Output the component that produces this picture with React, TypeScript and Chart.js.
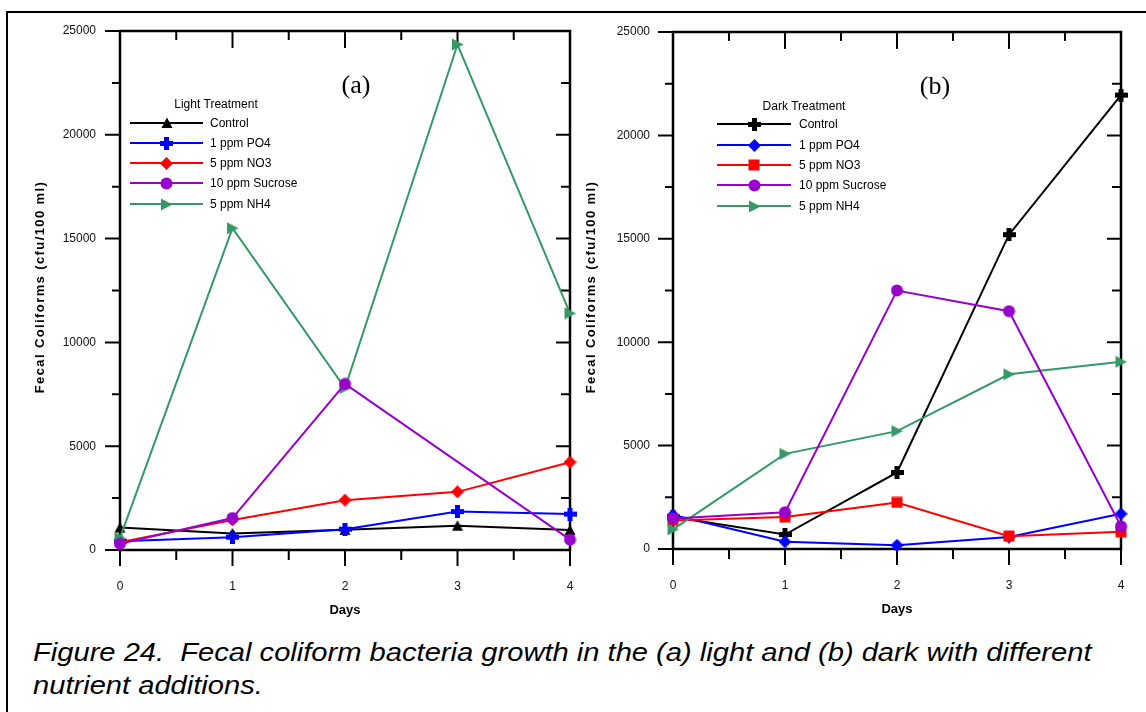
import React, { useEffect, useRef } from "react";
import { Chart, registerables } from "chart.js";

Chart.register(...registerables);

// ---------- data ----------
const days = [0, 1, 2, 3, 4];
const seriesNames = ["Control", "1 ppm PO4", "5 ppm NO3", "10 ppm Sucrose", "5 ppm NH4"];
const seriesColors = ["#000000", "#0000FF", "#FF0000", "#9900CC", "#339966"];
const yTickValues = [0, 5000, 10000, 15000, 20000, 25000];

const lightControl = [1080, 800, 970, 1170, 960];
const lightPO4 = [420, 620, 1000, 1850, 1730];
const lightNO3 = [380, 1450, 2400, 2800, 4230];
const lightSucrose = [300, 1540, 8000, null, 500];
const lightNH4 = [580, 15500, 7800, 24350, 11400];

const darkControl = [1550, 700, 3700, 15200, 21950];
const darkPO4 = [1640, 350, 180, 580, 1700];
const darkNO3 = [1380, 1550, 2250, 620, 830];
const darkSucrose = [1480, 1780, 12500, 11500, 1100];
const darkNH4 = [950, 4600, 5700, 8450, 9050];

const lightMarkers = ["triangle", "plus", "diamond", "circle", "triangleRight"];
const darkMarkers = ["plus", "diamond", "square", "circle", "triangleRight"];
const drawOrder = [4, 3, 2, 0, 1];

const yTitle = "Fecal Coliforms (cfu/100 ml)";
const xTitle = "Days";
const captionLines = [
  "Figure 24.  Fecal coliform bacteria growth in the (a) light and (b) dark with different",
  "nutrient additions.",
];

function makeMarker(shape: string, color: string, size: number): HTMLCanvasElement {
  const c = document.createElement("canvas");
  c.width = size;
  c.height = size;
  const g = c.getContext("2d")!;
  g.fillStyle = color;
  const s = size;
  const h = s / 2;
  g.beginPath();
  switch (shape) {
    case "triangle":
      g.moveTo(h, 0.5);
      g.lineTo(s - 0.5, s - 1);
      g.lineTo(0.5, s - 1);
      g.closePath();
      break;
    case "triangleRight":
      g.moveTo(1, 0.5);
      g.lineTo(s - 0.5, h);
      g.lineTo(1, s - 0.5);
      g.closePath();
      break;
    case "diamond":
      g.moveTo(h, 0);
      g.lineTo(s, h);
      g.lineTo(h, s);
      g.lineTo(0, h);
      g.closePath();
      break;
    case "square":
      g.rect(0.5, 0.5, s - 1, s - 1);
      break;
    case "circle":
      g.arc(h, h, h - 0.5, 0, Math.PI * 2);
      break;
    case "plus": {
      const t = Math.round(s * 0.4);
      g.rect((s - t) / 2, 0, t, s);
      g.rect(0, (s - t) / 2, s, t);
      break;
    }
  }
  g.fill();
  return c;
}

const markerSize: Record<string, number> = {
  triangle: 12,
  triangleRight: 13,
  diamond: 13,
  square: 12,
  circle: 13,
  plus: 13,
};

interface PanelCfg {
  label: string;
  labelX: number;
  labelY: number;
  legendTitle: string;
  legendTitleX: number;
  legendTitleY: number;
  legendX1: number;
  legendX2: number;
  legendTextX: number;
  legendRows: number[];
  yTitleX: number;
  yTitleY: number;
}

const framePlugin = {
  id: "frameTicks",
  beforeDatasetsDraw(chart: any) {
    const { ctx, chartArea, scales } = chart;
    const { left, right, top, bottom } = chartArea;
    const xs = scales.x;
    const ys = scales.y;
    ctx.save();
    ctx.strokeStyle = "#000";
    ctx.lineWidth = 2.5;
    ctx.strokeRect(left, top, right - left, bottom - top);
    ctx.lineWidth = 2;
    ctx.beginPath();
    for (let i = 0; i < days.length; i++) {
      const px = xs.getPixelForValue(days[i]);
      ctx.moveTo(px, bottom);
      ctx.lineTo(px, bottom + 16);
      if (i > 0 && i < days.length - 1) {
        ctx.moveTo(px, top);
        ctx.lineTo(px, top + 17);
      }
      if (i < days.length - 1) {
        const mx = xs.getPixelForValue((days[i] + days[i + 1]) / 2);
        ctx.moveTo(mx, bottom);
        ctx.lineTo(mx, bottom + 10);
        ctx.moveTo(mx, top);
        ctx.lineTo(mx, top + 9);
      }
    }
    for (let i = 0; i < yTickValues.length; i++) {
      const py = ys.getPixelForValue(yTickValues[i]);
      ctx.moveTo(left, py);
      ctx.lineTo(left - 15, py);
      if (i > 0 && i < yTickValues.length - 1) {
        ctx.moveTo(right, py);
        ctx.lineTo(right - 14, py);
      }
      if (i < yTickValues.length - 1) {
        const my = ys.getPixelForValue((yTickValues[i] + yTickValues[i + 1]) / 2);
        ctx.moveTo(left, my);
        ctx.lineTo(left - 8, my);
        ctx.moveTo(right, my);
        ctx.lineTo(right - 9, my);
      }
    }
    ctx.stroke();
    ctx.restore();
  },
  afterDraw(chart: any) {
    const cfg: PanelCfg = chart.options.plugins.frameTicks;
    const { ctx } = chart;
    ctx.save();
    ctx.fillStyle = "#000";
    ctx.font = '26px "Liberation Serif", "Times New Roman", serif';
    ctx.textAlign = "center";
    ctx.textBaseline = "middle";
    ctx.fillText(cfg.label, cfg.labelX, cfg.labelY);
    // y title
    ctx.save();
    ctx.translate(cfg.yTitleX, cfg.yTitleY);
    ctx.rotate(-Math.PI / 2);
    ctx.font = 'bold 13px "Liberation Sans", Arial, sans-serif';
    (ctx as any).letterSpacing = "1.4px";
    ctx.textAlign = "center";
    ctx.textBaseline = "middle";
    ctx.fillText(yTitle, 0, 0);
    ctx.restore();
    // legend
    ctx.font = '12px "Liberation Sans", Arial, sans-serif';
    ctx.textAlign = "center";
    ctx.textBaseline = "middle";
    ctx.fillText(cfg.legendTitle, cfg.legendTitleX, cfg.legendTitleY);
    ctx.textAlign = "left";
    chart.data.datasets.forEach((ds: any, i: number) => {
      const y = cfg.legendRows[i];
      ctx.strokeStyle = ds.borderColor;
      ctx.lineWidth = 2;
      ctx.beginPath();
      ctx.moveTo(cfg.legendX1, y);
      ctx.lineTo(cfg.legendX2, y);
      ctx.stroke();
      const img = ds.pointStyle as HTMLCanvasElement;
      const mx = (cfg.legendX1 + cfg.legendX2) / 2;
      ctx.drawImage(img, Math.round(mx - img.width / 2), Math.round(y - img.height / 2));
      ctx.fillStyle = "#000";
      ctx.fillText(ds.label, cfg.legendTextX, y + 0.5);
    });
    ctx.restore();
  },
};

function buildDatasets(series: (number | null)[][], markers: string[]) {
  return series.map((vals, i) => ({
    label: seriesNames[i],
    data: vals.map((v, j) => ({ x: days[j], y: v })),
    borderColor: seriesColors[i],
    backgroundColor: seriesColors[i],
    borderWidth: 2,
    pointStyle: makeMarker(markers[i], seriesColors[i], markerSize[markers[i]]),
    pointRadius: 7,
    pointHoverRadius: 7,
    spanGaps: true,
    tension: 0,
    clip: false as any,
    order: drawOrder[i],
  }));
}

interface PanelProps {
  series: (number | null)[][];
  markers: string[];
  left: number;
  width: number;
  height: number;
  yAxisWidth: number;
  padding: { top: number; right: number; bottom: number; left: number };
  tickPad: number;
  cfg: PanelCfg;
}

function Panel(p: PanelProps) {
  const ref = useRef<HTMLCanvasElement>(null);
  useEffect(() => {
    if (!ref.current) return;
    const chart = new Chart(ref.current, {
      type: "line",
      data: { datasets: buildDatasets(p.series, p.markers) as any },
      options: {
        animation: false,
        responsive: false,
        events: [],
        layout: { padding: p.padding },
        plugins: {
          legend: { display: false },
          tooltip: { enabled: false },
          frameTicks: p.cfg,
        } as any,
        scales: {
          x: {
            type: "linear",
            min: 0,
            max: 4,
            grid: { display: false, drawTicks: true, tickLength: 29 },
            border: { display: false },
            ticks: {
              stepSize: 1,
              padding: 0,
              color: "#111",
              font: { family: '"Liberation Sans", Arial, sans-serif', size: 12 },
              callback: (v: any) => String(v),
            },
            title: {
              display: true,
              text: xTitle,
              color: "#000",
              font: { family: '"Liberation Sans", Arial, sans-serif', size: 13, weight: "bold" },
              padding: { top: 0, bottom: 2 },
            },
            afterFit: (s: any) => {
              s.height = 70;
            },
          },
          y: {
            type: "linear",
            min: 0,
            max: 25000,
            grid: { display: false, drawTicks: true, tickLength: p.tickPad },
            border: { display: false },
            ticks: {
              stepSize: 5000,
              padding: 0,
              color: "#111",
              font: { family: '"Liberation Sans", Arial, sans-serif', size: 12 },
              callback: (v: any) => String(v),
            },
            afterFit: (s: any) => {
              s.width = p.yAxisWidth;
            },
          },
        },
      },
      plugins: [framePlugin],
    });
    return () => chart.destroy();
  }, []);
  return (
    <canvas
      ref={ref}
      width={p.width}
      height={p.height}
      style={{ position: "absolute", left: p.left, top: 0, width: p.width, height: p.height }}
    />
  );
}

export default function App() {
  return (
    <div
      style={{
        position: "absolute",
        left: 0,
        top: 0,
        width: 1146,
        height: 712,
        background: "#fff",
        overflow: "hidden",
      }}
    >
      <div
        style={{
          position: "absolute",
          left: 6,
          top: 11,
          width: 2000,
          height: 2000,
          borderTop: "2px solid #000",
          borderLeft: "2px solid #000",
        }}
      />
      <Panel
        series={[lightControl, lightPO4, lightNO3, lightSucrose, lightNH4]}
        markers={lightMarkers}
        left={0}
        width={590}
        height={625}
        yAxisWidth={120}
        padding={{ top: 31, right: 20, bottom: 5, left: 0 }}
        tickPad={24}
        cfg={{
          label: "(a)",
          labelX: 356,
          labelY: 86,
          legendTitle: "Light Treatment",
          legendTitleX: 216,
          legendTitleY: 105,
          legendX1: 130,
          legendX2: 203,
          legendTextX: 210,
          legendRows: [123, 143, 163, 183, 204],
          yTitleX: 40,
          yTitleY: 287,
        }}
      />
      <Panel
        series={[darkControl, darkPO4, darkNO3, darkSucrose, darkNH4]}
        markers={darkMarkers}
        left={580}
        width={566}
        height={625}
        yAxisWidth={93}
        padding={{ top: 32, right: 25, bottom: 6, left: 0 }}
        tickPad={23}
        cfg={{
          label: "(b)",
          labelX: 355,
          labelY: 87,
          legendTitle: "Dark Treatment",
          legendTitleX: 224,
          legendTitleY: 107,
          legendX1: 137,
          legendX2: 211,
          legendTextX: 219,
          legendRows: [124, 145, 165, 185, 206],
          yTitleX: 11,
          yTitleY: 287,
        }}
      />
      <div
        style={{
          position: "absolute",
          left: 33,
          top: 636,
          fontFamily: '"Liberation Sans", Arial, sans-serif',
          fontStyle: "italic",
          fontSize: 26,
          lineHeight: "33px",
          color: "#000",
          whiteSpace: "pre",
          transformOrigin: "0 0",
          transform: "scaleX(1.12)",
        }}
      >
        {captionLines[0]}
        <br />
        {captionLines[1]}
      </div>
    </div>
  );
}
